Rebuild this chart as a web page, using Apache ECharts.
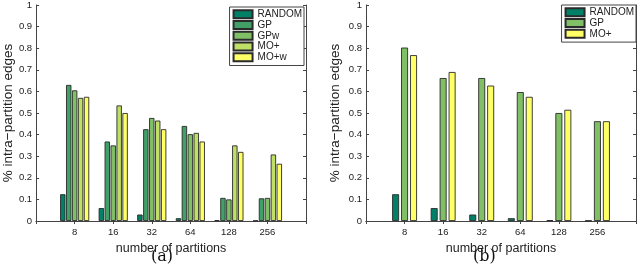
<!DOCTYPE html>
<html><head><meta charset="utf-8">
<script src="https://cdn.jsdelivr.net/npm/echarts@6/dist/echarts.min.js"></script>
<style>html,body{margin:0;padding:0;background:#fff}#c{width:640px;height:272px}</style>
</head><body><div id="c"></div>
<script>
const categories = ['', '8', '16', '32', '64', '128', '256', ''];
const yTicks = [0, 0.1, 0.2, 0.3, 0.4, 0.5, 0.6, 0.7, 0.8, 0.9, 1];

// Panel (a)
const aRandom = [null, 0.124, 0.060, 0.030, 0.013, 0.004, 0.002, null];
const aGP     = [null, 0.630, 0.368, 0.425, 0.440, 0.107, 0.105, null];
const aGPw    = [null, 0.605, 0.350, 0.477, 0.402, 0.100, 0.107, null];
const aMOp    = [null, 0.570, 0.535, 0.465, 0.408, 0.350, 0.308, null];
const aMOpw   = [null, 0.575, 0.500, 0.425, 0.368, 0.320, 0.265, null];

// Panel (b)
const bRandom = [null, 0.124, 0.060, 0.030, 0.013, 0.004, 0.002, null];
const bGP     = [null, 0.803, 0.662, 0.662, 0.597, 0.500, 0.462, null];
const bMOp    = [null, 0.768, 0.690, 0.627, 0.575, 0.515, 0.462, null];

const txt = '#222';
const axisCol = '#444';
const font = 'Liberation Sans';

function xAx(gi, pos, show) {
  return {
    type: 'category', gridIndex: gi, position: pos, data: categories, boundaryGap: false,
    axisLine: {show: true, lineStyle: {color: axisCol, width: 1}},
    axisTick: {show: true, inside: true, length: 3, lineStyle: {color: axisCol}},
    axisLabel: {show: show, color: txt, fontSize: 9.5, fontFamily: font, margin: 6, interval: 0},
    name: show ? 'number of partitions' : '', nameLocation: 'middle', nameGap: 17,
    nameTextStyle: {color: txt, fontSize: 12.5, fontFamily: font},
    splitLine: {show: false}
  };
}
function yAx(gi, pos, show, gap) {
  return {
    type: 'value', gridIndex: gi, position: pos, min: 0, max: 1, interval: 0.1,
    axisLine: {show: true, lineStyle: {color: axisCol, width: 1}},
    axisTick: {show: true, inside: true, length: 3, lineStyle: {color: axisCol}},
    axisLabel: {show: show, color: txt, fontSize: 9.5, fontFamily: font, margin: 4},
    name: show ? '% intra\u2212partition edges' : '', nameLocation: 'middle', nameGap: gap,
    nameRotate: 90,
    nameTextStyle: {color: txt, fontSize: 13.5, fontFamily: font},
    splitLine: {show: false}
  };
}
const c0 = '#008066', c1 = '#40a066', c2 = '#80bf66', c3 = '#bfdf66', c4 = '#ffff66';
function bar(name, data, color, xi, yi, w, gap) {
  return {
    type: 'bar', name: name, data: data, xAxisIndex: xi, yAxisIndex: yi,
    barWidth: w, barGap: gap,
    itemStyle: {color: color, borderColor: '#2a2a2a', borderWidth: 0.9},
    silent: true, animation: false
  };
}
const legendBase = {
  orient: 'vertical', itemWidth: 19, itemHeight: 8, itemGap: 0,
  backgroundColor: '#fff', borderColor: axisCol, borderWidth: 1,
  textStyle: {color: txt, fontSize: 10, fontFamily: font, lineHeight: 10.7},
  icon: 'rect', selectedMode: false,
  formatter: function (n) { return n.trim(); }
};

const chart = echarts.init(document.getElementById('c'), null, {renderer: 'canvas'});
chart.setOption({
  animation: false,
  backgroundColor: '#fff',
  grid: [
    {left: 30, right: 334, top: 4, bottom: 51},
    {left: 366, right: 4, top: 4, bottom: 51}
  ],
  xAxis: [xAx(0, 'bottom', true), xAx(0, 'top', false), xAx(1, 'bottom', true), xAx(1, 'top', false)],
  yAxis: [yAx(0, 'left', true, 21), yAx(0, 'right', false, 0), yAx(1, 'left', true, 24), yAx(1, 'right', false, 0)],
  legend: [
    Object.assign({}, legendBase, {right: 336, top: 7, padding: [2, 2, 3, 3],
      data: ['RANDOM', 'GP', 'GPw', 'MO+', 'MO+w']}),
    Object.assign({}, legendBase, {right: 4, top: 5, padding: [2, 2, 3, 3],
      data: ['RANDOM ', 'GP ', 'MO+ ']})
  ],
  series: [
    bar('RANDOM', aRandom, c0, 0, 0, 5.4, '10%'),
    bar('GP', aGP, c1, 0, 0, 5.4, '10%'),
    bar('GPw', aGPw, c2, 0, 0, 5.4, '10%'),
    bar('MO+', aMOp, c3, 0, 0, 5.4, '10%'),
    bar('MO+w', aMOpw, c4, 0, 0, 5.4, '10%'),
    bar('RANDOM ', bRandom, c0, 2, 2, 7, '28%'),
    bar('GP ', bGP, c2, 2, 2, 7, '28%'),
    bar('MO+ ', bMOp, c4, 2, 2, 7, '28%')
  ],
  graphic: [
    {type: 'text', left: 151, top: 249, style: {text: '(a)', fill: '#111', font: '16px "DejaVu Serif"'}},
    {type: 'text', left: 473, top: 249, style: {text: '(b)', fill: '#111', font: '16px "DejaVu Serif"'}}
  ]
});
</script></body></html>
